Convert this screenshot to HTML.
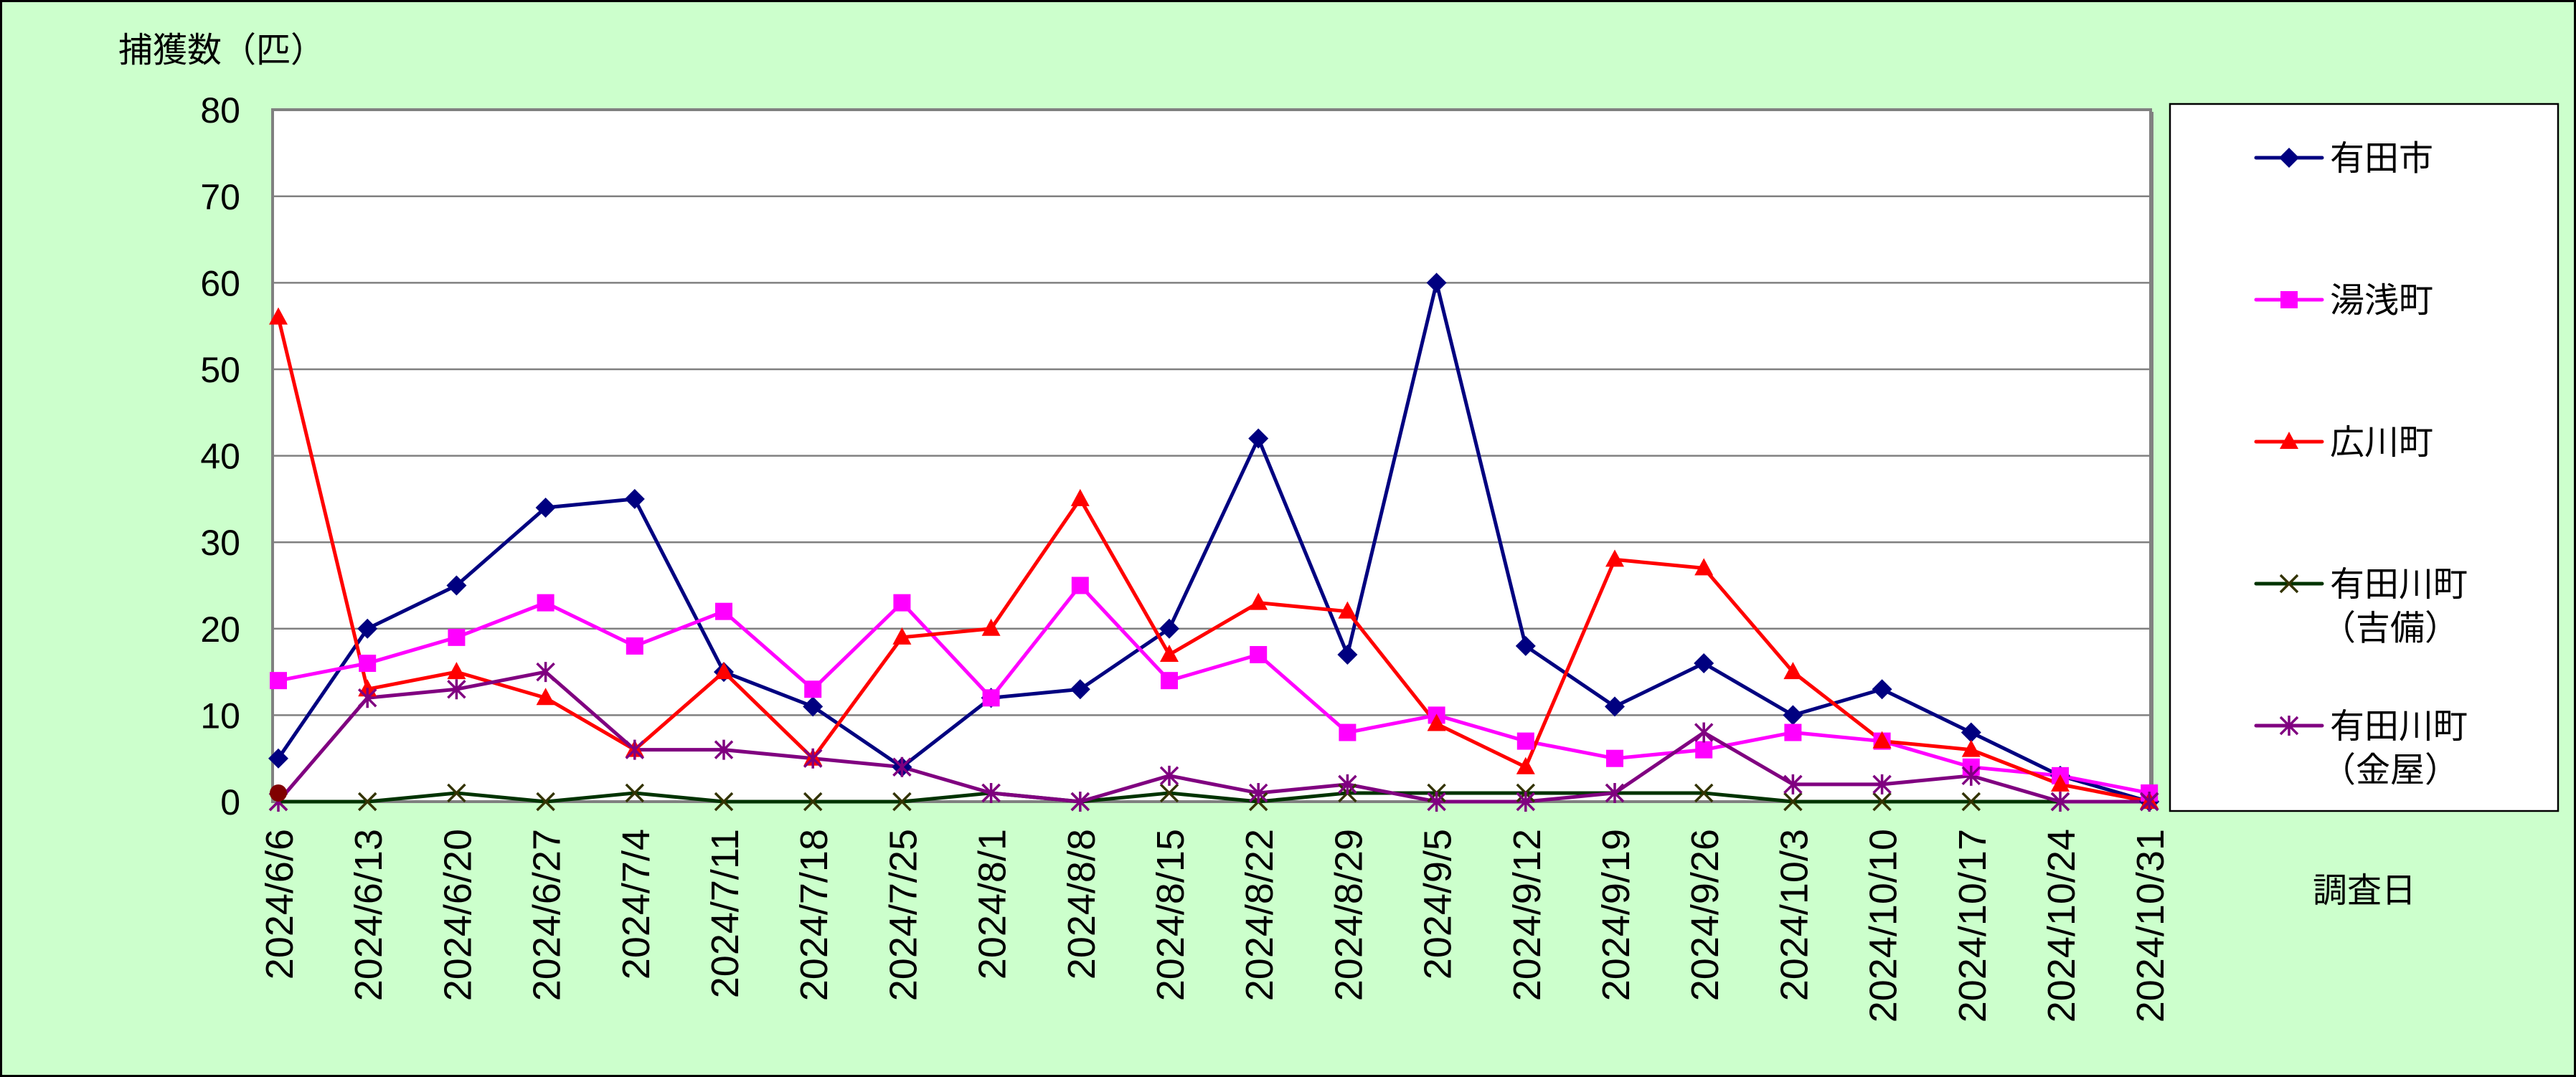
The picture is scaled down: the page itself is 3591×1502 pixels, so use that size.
<!DOCTYPE html>
<html><head><meta charset="utf-8">
<style>
html,body{margin:0;padding:0;background:#CCFFCC;}
svg{display:block;}
text{font-family:"Liberation Sans","Noto Sans CJK JP",sans-serif;fill:#000;}
</style></head>
<body>
<svg id="s" width="3591" height="1502" viewBox="0 0 3591 1502" xmlns="http://www.w3.org/2000/svg">
<rect x="1.5" y="1.5" width="3588" height="1499" fill="#CCFFCC" stroke="#000" stroke-width="3"/>
<rect x="380" y="153" width="2618" height="965" fill="#fff"/>
<g id="grid" stroke="#808080" stroke-width="2.5"></g>
<path d="M380 153 V1118 H2998 V153 Z" fill="none" stroke="#808080" stroke-width="4"/>
<line x1="3000" y1="156" x2="3000" y2="1121" stroke="#808080" stroke-width="4"/>
<text x="165" y="86" font-size="48">捕獲数（匹）</text>
<g id="yl" font-size="50" text-anchor="end"></g>
<g id="xl" font-size="54"></g>
<g id="series"></g>
<rect x="3025" y="145" width="541" height="986" fill="#fff" stroke="#000" stroke-width="2.5"/>
<g id="leg" font-size="48"></g>
<text x="3224" y="1258" font-size="48">調査日</text>
</svg>
<script>
const NS="http://www.w3.org/2000/svg";
function el(p,tag,attrs,txt){const e=document.createElementNS(NS,tag);for(const k in attrs)e.setAttribute(k,attrs[k]);if(txt!==undefined)e.textContent=txt;document.getElementById(p).appendChild(e);return e;}
const X=i=>388+i*124.2, Y=v=>1118-v*12.06;
for(let v=10;v<=70;v+=10) el('grid','line',{x1:380,x2:2998,y1:Y(v),y2:Y(v)});
for(let v=0;v<=80;v+=10) el('yl','text',{x:335,y:Y(v)+18},String(v));
const dates=["2024/6/6","2024/6/13","2024/6/20","2024/6/27","2024/7/4","2024/7/11","2024/7/18","2024/7/25","2024/8/1","2024/8/8","2024/8/15","2024/8/22","2024/8/29","2024/9/5","2024/9/12","2024/9/19","2024/9/26","2024/10/3","2024/10/10","2024/10/17","2024/10/24","2024/10/31"];
dates.forEach((d,i)=>el('xl','text',{transform:`translate(${X(i)+20},1156) rotate(-90)`,'text-anchor':'end'},d));
const S=[
 {c:"#000080",m:"d",mc:"#000080",v:[5,20,25,34,35,15,11,4,12,13,20,42,17,60,18,11,16,10,13,8,3,0]},
 {c:"#FF00FF",m:"s",mc:"#FF00FF",v:[14,16,19,23,18,22,13,23,12,25,14,17,8,10,7,5,6,8,7,4,3,1]},
 {c:"#FF0000",m:"t",mc:"#FF0000",v:[56,13,15,12,6,15,5,19,20,35,17,23,22,9,4,28,27,15,7,6,2,0]},
 {c:"#003300",m:"x",mc:"#333300",v:[0,0,1,0,1,0,0,0,1,0,1,0,1,1,1,1,1,0,0,0,0,0]},
 {c:"#800080",m:"a",mc:"#800080",v:[0,12,13,15,6,6,5,4,1,0,3,1,2,0,0,1,8,2,2,3,0,0]}
];
function marker(g,m,col,x,y){
 if(m=="d") el(g,'path',{d:`M${x} ${y-14}L${x+14} ${y}L${x} ${y+14}L${x-14} ${y}Z`,fill:col});
 if(m=="s") el(g,'rect',{x:x-12,y:y-12,width:24,height:24,fill:col});
 if(m=="t") el(g,'path',{d:`M${x} ${y-14}L${x+13} ${y+10}L${x-13} ${y+10}Z`,fill:col});
 if(m=="x") el(g,'path',{d:`M${x-12} ${y-12}L${x+12} ${y+12}M${x+12} ${y-12}L${x-12} ${y+12}`,stroke:col,'stroke-width':3.5,fill:'none'});
 if(m=="a") el(g,'path',{d:`M${x-12} ${y-12}L${x+12} ${y+12}M${x+12} ${y-12}L${x-12} ${y+12}M${x} ${y-14}V${y+14}`,stroke:col,'stroke-width':3.5,fill:'none'});
}
S.forEach(s=>{
 el('series','polyline',{points:s.v.map((v,i)=>X(i)+','+Y(v)).join(' '),fill:'none',stroke:s.c,'stroke-width':5,'stroke-linejoin':'round'});
});
S.forEach(s=>s.v.forEach((v,i)=>marker('series',s.m,s.mc,X(i),Y(v))));
el('series','circle',{cx:X(0),cy:Y(1),r:12,fill:'#800000'});
const L=[["有田市"],["湯浅町"],["広川町"],["有田川町","（吉備）"],["有田川町","（金屋）"]];
L.forEach((t,k)=>{
 const y=220+k*198, s=S[k];
 el('leg','line',{x1:3145,x2:3237,y1:y,y2:y,stroke:s.c,'stroke-width':5,'stroke-linecap':'round'});
 marker('leg',s.m,s.mc,3191,y);
 el('leg','text',{x:3248,y:y+17},t[0]);
 if(t[1]) el('leg','text',{x:3236,y:y+78},t[1]);
});
</script>
</body></html>
